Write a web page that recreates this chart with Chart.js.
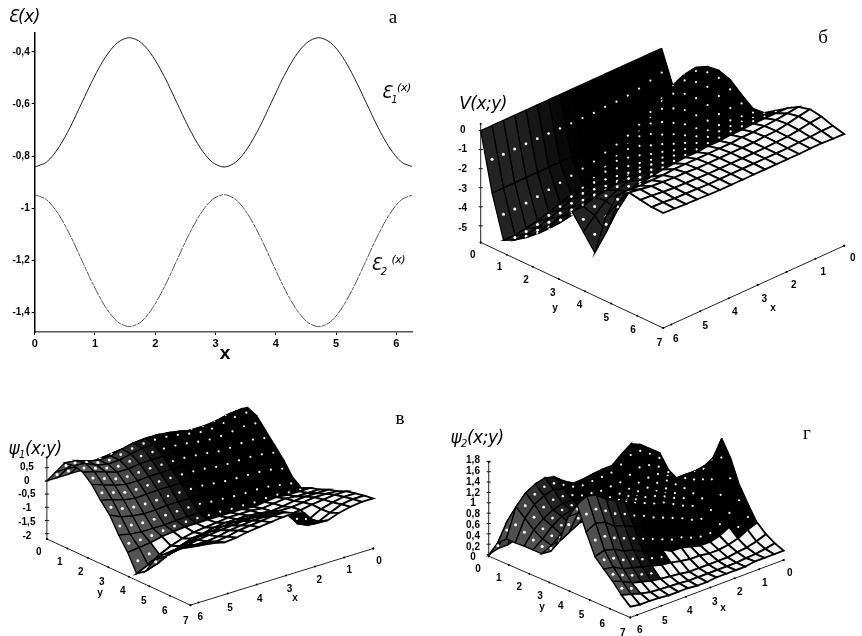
<!DOCTYPE html>
<html><head><meta charset="utf-8">
<script src="https://cdn.jsdelivr.net/npm/chart.js@4"></script>
<style>
html,body{margin:0;padding:0;background:#fff;width:862px;height:636px;overflow:hidden}
canvas{position:absolute}
.t{position:absolute;transform:translate(-50%,-50%);white-space:nowrap;color:#000;font:bold 10px "Liberation Sans"}
.p{font:19px "Liberation Serif"}
.h{font:italic 17px "DejaVu Sans";letter-spacing:-.5px}
.h sub{font-size:10px}.h sup{font-size:11px}
.b{font:bold 19px "Liberation Sans"}
</style></head><body>
<canvas id="a" width="430" height="372" style="left:0;top:0"></canvas>
<canvas id="b" width="430" height="350" style="top:20px;left:432px"></canvas>
<canvas id="c" width="430" height="246" style="left:0;top:390px"></canvas>
<canvas id="d" width="432" height="246" style="left:430px;top:390px"></canvas>
<script>
// ---- panel a data ----
const xValues=[0,.196,.393,.589,.785,.982,1.178,1.374,1.571,1.767,1.963,2.16,2.356,2.553,2.749,2.945,3.142,3.338,3.534,3.731,3.927,4.123,4.32,4.516,4.712,4.909,5.105,5.301,5.498,5.694,5.89,6.087,6.283];
const energy1=[-.842,-.823,-.769,-.689,-.594,-.499,-.419,-.365,-.346,-.365,-.419,-.499,-.594,-.689,-.769,-.823,-.842,-.823,-.769,-.689,-.594,-.499,-.419,-.365,-.346,-.365,-.419,-.499,-.594,-.689,-.769,-.823,-.842];
const energy2=[-.948,-.967,-1.022,-1.104,-1.201,-1.298,-1.38,-1.435,-1.454,-1.435,-1.38,-1.298,-1.201,-1.104,-1.022,-.967,-.948,-.967,-1.022,-1.104,-1.201,-1.298,-1.38,-1.435,-1.454,-1.435,-1.38,-1.298,-1.201,-1.104,-1.022,-.967,-.948];
const xTicksA=[0,1,2,3,4,5,6];
const yTicksA=[-.4,-.6,-.8,-1,-1.2,-1.4];
// ---- surfaces: rows are y = 0..7, columns are x = 0..6.28 ----
const surfaceV=[
[0,0,0,0,0,0,0,0,0,0,0,0,0,0,0,0,0],
[-1.7,-2,-2.3,-2.6,-2.8,-2.9,-2.9,-3,-3,-3,-3,-3,-3,-3,-3,-3,-3],
[-.8,-1.1,-1.6,-2.2,-2.7,-3.1,-3.4,-3.7,-4,-4.2,-4.4,-4.6,-4.8,-5,-5.1,-5.2,-5.2],
[-.15,-.3,-.65,-1.2,-1.8,-2.2,-2.6,-3,-3.3,-3.6,-3.9,-4.1,-4.4,-4.6,-4.8,-4.9,-4.9],
[.17,0,-.3,-.8,-1.3,-1.7,-2.1,-2.5,-2.8,-3.1,-3.4,-3.7,-4,-4.2,-4.4,-4.5,-4.5],
[.25,.1,-.2,-.6,-1.1,-1.5,-1.8,-2.1,-2.4,-2.7,-3,-3.2,-3.5,-3.7,-3.9,-4,-4],
[.05,0,-.25,-.6,-.9,-1.2,-1.5,-1.8,-2,-2.3,-2.5,-2.7,-2.9,-3.1,-3.3,-3.4,-3.4],
[-.45,-.45,-.55,-.7,-.9,-1,-1.2,-1.4,-1.6,-1.8,-2,-2.1,-2.3,-2.4,-2.5,-2.6,-2.6],
[-.9,-.85,-.8,-.8,-.8,-.85,-.95,-1.1,-1.2,-1.3,-1.4,-1.5,-1.6,-1.7,-1.8,-2,-2],
[-.85,-.8,-.7,-.65,-.6,-.6,-.65,-.7,-.8,-.9,-1,-1.1,-1.2,-1.4,-1.7,-2.2,-2.8],
[-.45,-.4,-.35,-.3,-.3,-.35,-.4,-.45,-.5,-.55,-.65,-.75,-.9,-1.2,-1.9,-2.8,-3.6],
[-.05,-.05,-.05,-.05,-.1,-.1,-.15,-.15,-.2,-.2,-.25,-.3,-.4,-.5,-.7,-1,-1.4],
[.3,.22,.15,.1,.05,.05,0,0,0,0,0,0,-.05,-.05,-.05,0,0],
[.45,.35,.22,.12,.1,.05,.05,.05,.05,.05,.05,.1,.1,.15,.2,.3,.4],
[.35,.28,.18,.1,.08,.05,.05,.05,.05,.05,.05,.08,.1,.12,.18,.25,.3],
[.15,.14,.1,.08,.05,.05,.05,.05,.05,.05,.05,.05,.08,.1,.12,.18,.2],
[0,.02,.05,.05,.03,.03,.03,.03,.03,.03,.03,.03,.05,.08,.1,.14,.17]];
const surfacePsi1=[
[.3,.2,.1,.05,0,0,0,0,0,0,0,0,0,0,0,0,0],
[.7,.65,.55,.5,.5,.5,.55,.6,.6,.6,.6,.55,.5,.45,.45,.5,.5],
[.95,.95,.85,.75,.7,.75,.85,.93,.98,.98,.95,.85,.72,.7,.8,.95,1],
[.8,.85,.78,.7,.65,.7,.8,.88,.92,.92,.9,.82,.72,.7,.8,1,1.05],
[.4,.5,.5,.45,.45,.5,.55,.6,.62,.62,.62,.6,.55,.55,.7,.85,.95],
[0,.1,.15,.15,.12,.12,.2,.25,.28,.28,.28,.28,.25,.25,.35,.5,.65],
[-.4,-.3,-.25,-.22,-.22,-.2,-.15,-.1,-.08,-.08,-.08,-.08,-.1,-.12,-.05,.1,.2],
[-.9,-.8,-.7,-.65,-.65,-.62,-.6,-.55,-.5,-.5,-.5,-.5,-.55,-.55,-.5,-.4,-.2],
[-1.15,-1.1,-1.05,-1,-1,-1,-1,-.95,-.95,-.9,-.9,-.92,-.95,-.95,-.95,-.9,-.8],
[-1,-1,-1,-.95,-1,-1.05,-1,-1,-1,-1,-1,-1,-1.05,-1.1,-1.2,-1.25,-1.3],
[-.9,-.9,-.9,-.85,-.9,-.95,-.9,-.9,-.9,-.95,-1,-1.05,-1.15,-1.3,-1.5,-1.75,-1.95],
[-.75,-.75,-.75,-.78,-.85,-.9,-.85,-.8,-.8,-.8,-.85,-.95,-1,-1.15,-1.35,-1.55,-1.7],
[-.65,-.62,-.62,-.68,-.72,-.72,-.7,-.65,-.62,-.62,-.65,-.7,-.75,-.85,-1,-1.1,-1.1],
[-.5,-.5,-.55,-.6,-.68,-.72,-.55,-.45,-.42,-.42,-.45,-.5,-.55,-.6,-.7,-.75,-.75],
[-.42,-.42,-.5,-.62,-.85,-.9,-.4,-.25,-.25,-.25,-.3,-.35,-.45,-.5,-.5,-.45,-.45],
[-.35,-.35,-.42,-.6,-.8,-.8,-.25,-.05,-.05,-.1,-.15,-.2,-.3,-.35,-.3,-.25,-.2],
[-.3,-.3,-.35,-.45,-.6,-.58,-.05,.08,.05,0,-.05,-.1,-.18,-.22,-.12,-.06,0]];
const surfacePsi2=[
[0,.05,.1,.1,.1,.1,.1,.1,.1,.1,.1,.1,.1,.1,.05,.05,0],
[.6,.75,.8,.8,.75,.7,.65,.65,.65,.65,.7,.75,.8,.8,.75,.65,.3],
[1,1.15,1.3,1.38,1.25,1.1,1.1,1.08,1.05,1.04,1.15,1.3,1.35,1.3,1.2,1,.45],
[.75,.95,1.1,1.2,1.1,1,.98,.95,.95,.95,1.05,1.15,1.2,1.15,1.05,.85,.45],
[.65,.8,.95,1,.95,.9,.85,.85,.85,.9,.95,1,1,.95,.85,.7,.46],
[.72,.8,.9,.95,.9,.9,.85,.85,.85,.9,.95,.95,.95,.9,.78,.6,.46],
[.95,.95,.95,.9,.9,.9,.9,.9,.9,.9,.95,.9,.85,.8,.7,.55,.46],
[1.12,1.05,.95,.85,.88,.92,.95,1,1,1,1.05,1.02,.98,.92,.85,.72,.58],
[1.35,1.15,.95,.85,.9,1,1.1,1.15,1.15,1.15,1.2,1.2,1.15,1.1,1.05,.95,.85],
[1.8,1.4,1,.8,.85,.95,1.05,1.1,1.15,1.2,1.25,1.3,1.3,1.35,1.4,1.4,1.4],
[1.5,1.2,.9,.7,.75,.85,.95,1.05,1.1,1.2,1.3,1.4,1.5,1.6,1.75,1.8,1.7],
[1.05,.85,.65,.5,.5,.55,.65,.7,.75,.85,.95,1,1.1,1.15,1.3,1.35,1.25],
[.75,.6,.45,.35,.3,.3,.35,.4,.4,.5,.55,.6,.7,.75,.85,.9,.85],
[.47,.4,.3,.25,.22,.22,.25,.25,.28,.32,.35,.4,.45,.5,.55,.65,.68],
[.32,.25,.2,.18,.15,.15,.15,.15,.15,.18,.2,.22,.25,.3,.35,.45,.52],
[.22,.18,.15,.14,.12,.12,.12,.12,.12,.12,.14,.15,.16,.18,.22,.28,.33],
[.15,.15,.15,.15,.12,.12,.12,.12,.1,.1,.12,.12,.12,.14,.15,.15,.18]];
const xTicks3d=[0,1,2,3,4,5,6];
const yTicks3d=[0,1,2,3,4,5,6,7];
const zTicksV=[0,-1,-2,-3,-4,-5];
const zTicksPsi1=[.5,0,-.5,-1,-1.5,-2];
const zTicksPsi2=[1.8,1.6,1.4,1.2,1,.8,.6,.4,.2,0];

const comma=v=>String(v).replace('.',',');
function text(html,x,y,cls){const d=document.createElement('div');d.className='t '+(cls||'');d.innerHTML=html;d.style.left=x+'px';d.style.top=y+'px';document.body.appendChild(d);}

// ---- panel a ----
new Chart(document.getElementById('a'),{type:'line',
 data:{labels:xValues,datasets:[
  {label:'E1',data:xValues.map((x,i)=>({x,y:energy1[i]})),borderColor:'#222',borderWidth:1,pointRadius:0,tension:.3},
  {label:'E2',data:xValues.map((x,i)=>({x,y:energy2[i]})),borderColor:'#555',borderWidth:1,borderDash:[10,1,4,1],pointRadius:0,tension:.3}]},
 options:{responsive:false,animation:false,devicePixelRatio:1,
  layout:{padding:{left:0,top:33,right:18,bottom:0}},
  plugins:{legend:{display:false},tooltip:{enabled:false}},
  scales:{
   x:{type:'linear',min:0,max:6.26,afterBuildTicks:s=>{s.ticks=xTicksA.map(v=>({value:v}))},afterFit:s=>{s.height=40},
      grid:{drawOnChartArea:false,tickLength:3,color:'#000'},border:{color:'#555',width:1.5},
      ticks:{autoSkip:false,maxRotation:0,padding:2,color:'#000',font:{family:'Liberation Sans',size:11,weight:'bold'},callback:v=>comma(v)}},
   y:{type:'linear',min:-1.4745,max:-.328,afterBuildTicks:s=>{s.ticks=yTicksA.map(v=>({value:v}))},afterFit:s=>{s.width=34.7},
      grid:{drawOnChartArea:false,tickLength:3,color:'#000'},border:{color:'#000',width:1.5},
      ticks:{autoSkip:false,padding:2,color:'#000',font:{family:'Liberation Sans',size:10,weight:'bold'},callback:v=>comma(v)}}}}});
text('Ɛ(x)',24,16,'h');
text('а',393,17,'p');
text('Ɛ<sub>1</sub><sup>(x)</sup>',396,93,'h');
text('Ɛ<sub>2</sub> <sup>(x)</sup>',388,265,'h');
text('x',225,353,'b');

// ---- 3D panels: projection onto page pixels, drawn through the chart's linear scales ----
function surface(id,ox,oy,g,v){
 const cv=document.getElementById(id),w=cv.width,h=cv.height;
 const P=(x,y,z)=>({x:v.B[0]+x*v.ex[0]+y*v.ey[0],y:v.B[1]+x*v.ex[1]+y*v.ey[1]-(z-v.zFloor)*v.zs});
 const n=g.length-1,m=g[0].length-1,X=j=>6.28*j/m,Y=i=>7*i/n;
 const ds=[];
 for(let i=n-1;i>=0;i--)for(let j=m-1;j>=0;j--){
  const zs=[g[i][j],g[i][j+1],g[i+1][j+1],g[i+1][j]];
  const q=[P(X(j),Y(i),zs[0]),P(X(j+1),Y(i),zs[1]),P(X(j+1),Y(i+1),zs[2]),P(X(j),Y(i+1),zs[3])];
  const rise=(Math.max(...zs)-Math.min(...zs))*v.zs;
  const light=Y(i)>=v.yLight&&rise<v.maxRise;
  const t=light?0:Math.max(0,Math.min(1,(X(j)-v.xMed)/2));
  const grey=Math.round(t*v.grey);
  if(!light){const c={x:(q[0].x+q[2].x)/2,y:(q[0].y+q[2].y)/2};
   ds.push({data:[c],showLine:false,pointRadius:1.1+.4*t,pointBorderWidth:0,pointBackgroundColor:'#fff'});}
  ds.push({data:[...q,q[0]],showLine:true,fill:'shape',pointRadius:0,tension:0,borderWidth:light?1.8:1.3,borderColor:'#000',backgroundColor:light?'#f4f4f4':`rgb(${grey},${grey},${grey})`});
 }
 const axis=pts=>ds.push({data:pts,showLine:true,pointRadius:1,pointBackgroundColor:'#000',pointBorderWidth:0,borderColor:'#222',borderWidth:1,fill:false});
 axis(yTicks3d.map(y=>P(6.28,y,v.zFloor)));
 axis([P(0,7,v.zFloor),...xTicks3d.map(x=>P(x,7,v.zFloor)),P(6.28,7,v.zFloor)]);
 const zx=v.B[0]+6.28*v.ex[0],zy=P(6.28,0,v.zFloor).y;
 axis([{x:zx,y:zy},{x:zx,y:zy-v.zTop}]);
 ds.push({data:v.zTicks.map(z=>({x:zx,y:P(6.28,0,z).y})),showLine:false,pointStyle:'line',pointRadius:2,pointBorderColor:'#000',pointBorderWidth:1});
 new Chart(cv,{type:'scatter',data:{datasets:ds},options:{responsive:false,animation:false,devicePixelRatio:1,events:[],
  layout:{padding:0},plugins:{legend:{display:false},tooltip:{enabled:false}},
  scales:{x:{type:'linear',display:false,min:ox,max:ox+w},y:{type:'linear',display:false,reverse:true,min:oy,max:oy+h}}}});
 yTicks3d.forEach(y=>{const p=P(6.28,y,v.zFloor);text(String(y),p.x+v.yo[0],p.y+v.yo[1]);});
 xTicks3d.forEach(x=>{const p=P(x,7,v.zFloor);text(String(x),p.x+v.xo[0],p.y+v.xo[1]);});
 v.zTicks.forEach(z=>{const p=P(6.28,0,z);text(comma(z),zx-v.zl,p.y);});
}
surface('b',432,20,surfaceV,{B:[662,159],ex:[-29.5,13.5],ey:[26.7,12.6],zs:19.6,zFloor:-5.87,zTop:122,yLight:4.8,maxRise:9,xMed:3,grey:35,yo:[-4,10],xo:[4,10],zl:14,zTicks:zTicksV});
surface('c',0,390,surfacePsi1,{B:[230,481],ex:[-29.8,9.4],ey:[21,9.86],zs:27.5,zFloor:-2.2,zTop:85,yLight:3.9,maxRise:14,xMed:3,grey:85,yo:[-4,11],xo:[2,10],zl:16,zTicks:zTicksPsi1});
surface('d',430,390,surfacePsi2,{B:[642,498],ex:[-25,9.55],ey:[20.7,9.14],zs:54,zFloor:-.03,zTop:98,yLight:5.2,maxRise:12,xMed:3.8,grey:80,yo:[-7,10],xo:[3,10],zl:12,zTicks:zTicksPsi2});
text('V(x;y)',483,103,'h');text('б',823,37,'p');text('y',555,307);text('x',773,307);
text('ψ<sub>1</sub>(x;y)',35,449,'h');text('в',400,418,'p');text('y',100,592);text('x',295,597);
text('ψ<sub>2</sub>(x;y)',477,438,'h');text('г',807,433,'p');text('y',542,606);text('x',723,607);
</script></body></html>
